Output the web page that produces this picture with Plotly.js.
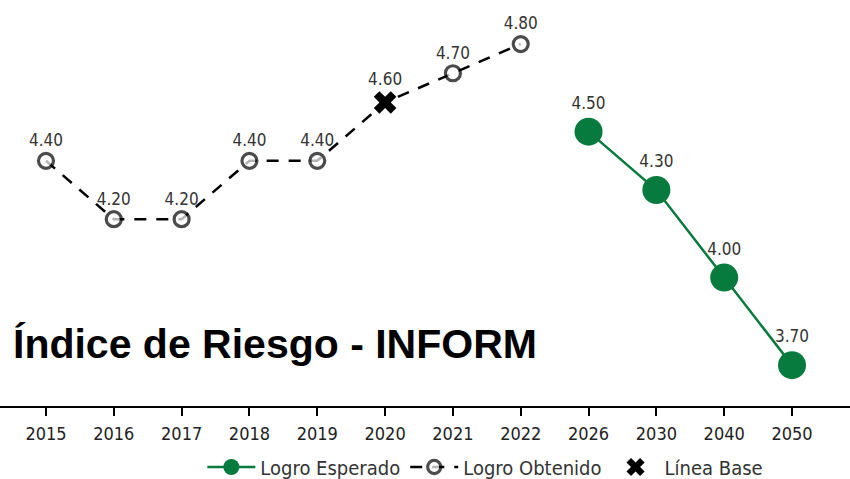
<!DOCTYPE html>
<html>
<head>
<meta charset="utf-8">
<script src="https://cdn.plot.ly/plotly-3.0.1.min.js"></script>
<style>html,body{margin:0;padding:0;background:#fff;}#chart{width:850px;height:479px;}</style>
</head>
<body>
<div id="chart"></div>
<script>
const categories = ['2015','2016','2017','2018','2019','2020','2021','2022','2026','2030','2040','2050'];
const obtenidoYears = ['2015','2016','2017','2018','2019','2020','2021','2022'];
const obtenidoValues = [4.40, 4.20, 4.20, 4.40, 4.40, 4.60, 4.70, 4.80];
const baseYears = ['2020'];
const baseValues = [4.60];
const esperadoYears = ['2026','2030','2040','2050'];
const esperadoValues = [4.50, 4.30, 4.00, 3.70];
const titleText = 'Índice de Riesgo - INFORM';

const GREEN = '#077b3d';
const smallFont = 'DejaVu Sans Condensed, Liberation Sans Narrow, DejaVu Sans, sans-serif';
const fmt = v => v.toFixed(2);

const traces = [
  {
    name: 'Logro Esperado',
    x: esperadoYears, y: esperadoValues,
    type: 'scatter', mode: 'lines+markers+text',
    line: {color: GREEN, width: 2.5},
    marker: {color: GREEN, size: 28},
    text: esperadoValues.map(fmt), textposition: 'top center',
    textfont: {family: smallFont, size: 17, color: '#333'},
    cliponaxis: false, hoverinfo: 'skip'
  },
  {
    name: 'Logro Obtenido',
    x: obtenidoYears, y: obtenidoValues,
    type: 'scatter', mode: 'lines+markers+text',
    line: {color: '#000', width: 2.5, dash: '12px,10px'},
    marker: {color: '#fff', size: obtenidoYears.map(y => baseYears.includes(y) ? 0 : 15), line: {color: '#000', width: 3.2}},
    text: obtenidoValues.map((v, i) => baseYears.includes(obtenidoYears[i]) ? '' : fmt(v)), textposition: 'top center',
    textfont: {family: smallFont, size: 17, color: '#333'},
    cliponaxis: false, hoverinfo: 'skip'
  },
  {
    name: 'Línea Base',
    x: baseYears, y: baseValues,
    type: 'scatter', mode: 'markers+text',
    marker: {color: '#000', symbol: 'x', size: 20},
    text: baseValues.map(fmt), textposition: 'top center',
    textfont: {family: smallFont, size: 17, color: '#333'},
    cliponaxis: false, hoverinfo: 'skip'
  }
];

const layout = {
  width: 850, height: 479,
  margin: {l: 0, r: 0, t: 0, b: 73},
  paper_bgcolor: '#fff', plot_bgcolor: '#fff',
  showlegend: true,
  legend: {orientation: 'h', x: 0.571, xanchor: 'center', yref: 'container', y: 0.025, yanchor: 'middle',
           font: {family: smallFont, size: 20, color: '#333'}, itemwidth: 48},
  xaxis: {
    type: 'category', categoryorder: 'array', categoryarray: categories,
    range: [-0.678, 11.855],
    showline: true, linecolor: '#000', linewidth: 2,
    ticks: 'outside', ticklen: 8, tickwidth: 2, tickcolor: '#000',
    ticklabelstandoff: 2,
    showgrid: false, zeroline: false, automargin: false,
    tickfont: {family: smallFont, size: 18, color: '#222'}
  },
  yaxis: {range: [3.560, 4.951], visible: false, showgrid: false, zeroline: false},
  annotations: [{
    text: '<b>' + titleText + '</b>',
    xref: 'paper', yref: 'paper', x: 0.013, y: 0.152, xanchor: 'left', yanchor: 'middle',
    showarrow: false,
    font: {family: 'Liberation Sans, Arial, sans-serif', size: 41, color: '#000'}
  }]
};

Plotly.newPlot('chart', traces, layout, {displayModeBar: false, staticPlot: true});
</script>
</body>
</html>
